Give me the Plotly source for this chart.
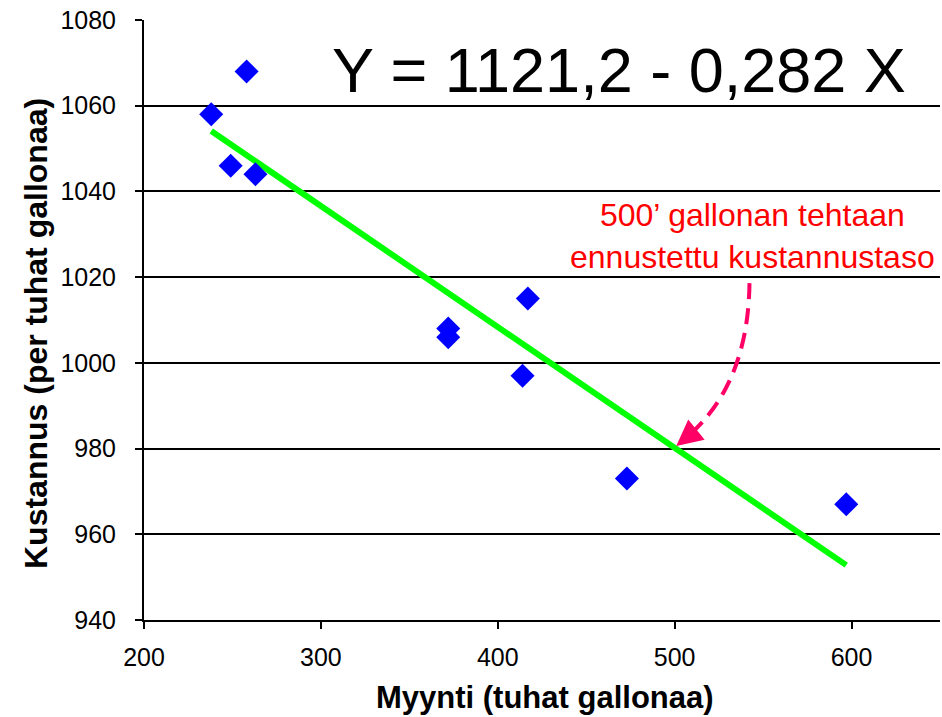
import plotly.graph_objects as go

# Data
sales = [238, 258, 249, 263, 372, 372, 417, 414, 473, 597]          # Myynti (tuhat gallonaa)
cost = [1058, 1068, 1046, 1044, 1008, 1006, 1015, 997, 973, 967]    # Kustannus (per tuhat gallonaa)

fit_x = [238, 597]
fit_y = [1054.1, 952.8]   # Y = 1121,2 - 0,282 X

x_ticks = [200, 300, 400, 500, 600]
y_ticks = [940, 960, 980, 1000, 1020, 1040, 1060, 1080]

equation_text = "Y = 1121,2 - 0,282 X"
note_text = "500’ gallonan tehtaan<br>ennustettu kustannustaso"

# annotation arrow geometry (data units): start, control1, control2, end
arrow_path_pts = [(542.3, 1018.6), (541.6, 996.0), (518.0, 986.5), (504.0, 981.6)]
arrow_tip = (500.9, 980.6)

FONT = "Liberation Sans, Arial, sans-serif"

fig = go.Figure()

fig.add_trace(go.Scatter(
    x=fit_x, y=fit_y, mode="lines",
    line=dict(color="#00FF00", width=6),
    hoverinfo="skip", showlegend=False,
))

fig.add_trace(go.Scatter(
    x=sales, y=cost, mode="markers",
    marker=dict(symbol="diamond", size=18.5, color="#0000FF", line=dict(width=0)),
    showlegend=False,
))

p0, p1, p2, p3 = arrow_path_pts
fig.add_shape(
    type="path", xref="x", yref="y",
    path=f"M {p0[0]},{p0[1]} C {p1[0]},{p1[1]} {p2[0]},{p2[1]} {p3[0]},{p3[1]}",
    line=dict(color="#FF0066", width=4, dash="16px,9px"),
)

fig.add_annotation(
    x=arrow_tip[0], y=arrow_tip[1], xref="x", yref="y",
    ax=16, ay=-13, axref="pixel", ayref="pixel",
    showarrow=True, arrowhead=2, arrowsize=1.3, arrowwidth=4,
    arrowcolor="#FF0066", text="", standoff=0,
)

fig.add_annotation(
    x=468.7, y=(620 - 70) / 600, xref="x", yref="paper",
    text=equation_text, showarrow=False,
    font=dict(family=FONT, size=63, color="black"),
    xanchor="center", yanchor="middle",
)

fig.add_annotation(
    x=200 + (752 - 144) / 1.768, y=(620 - 236) / 600, xref="x", yref="paper",
    text=note_text, showarrow=False,
    font=dict(family=FONT, size=32, color="#FF0000"),
    xanchor="center", yanchor="middle", align="center",
)

# axis titles
fig.add_annotation(
    x=(36 - 144) / 796, y=(620 - 334) / 600, xref="paper", yref="paper",
    text="<b>Kustannus (per tuhat gallonaa)</b>", textangle=-90, showarrow=False,
    font=dict(family=FONT, size=32, color="black"),
    xanchor="center", yanchor="middle",
)
fig.add_annotation(
    x=(545 - 144) / 796, y=(620 - 698) / 600, xref="paper", yref="paper",
    text="<b>Myynti (tuhat gallonaa)</b>", showarrow=False,
    font=dict(family=FONT, size=31, color="black"),
    xanchor="center", yanchor="middle",
)

fig.update_layout(
    width=942, height=717,
    margin=dict(l=144, r=2, t=20, b=97),
    paper_bgcolor="white", plot_bgcolor="white",
    font=dict(family=FONT, color="black"),
    showlegend=False,
)

fig.update_xaxes(
    range=[200, 650], tickvals=x_ticks, ticktext=[str(v) for v in x_ticks],
    showgrid=False, zeroline=False,
    showline=True, linecolor="black", linewidth=2,
    ticks="outside", ticklen=7, tickwidth=2, tickcolor="black",
    tickfont=dict(family=FONT, size=25, color="black"),
    ticklabelstandoff=7,
)
fig.update_yaxes(
    range=[940, 1080], tickvals=y_ticks, ticktext=[str(v) for v in y_ticks],
    showgrid=True, gridcolor="black", gridwidth=2, zeroline=False,
    showline=True, linecolor="black", linewidth=2,
    ticks="outside", ticklen=7, tickwidth=2, tickcolor="black",
    tickfont=dict(family=FONT, size=25, color="black"),
    ticklabelstandoff=14,
)

fig.write_html("out.html")
